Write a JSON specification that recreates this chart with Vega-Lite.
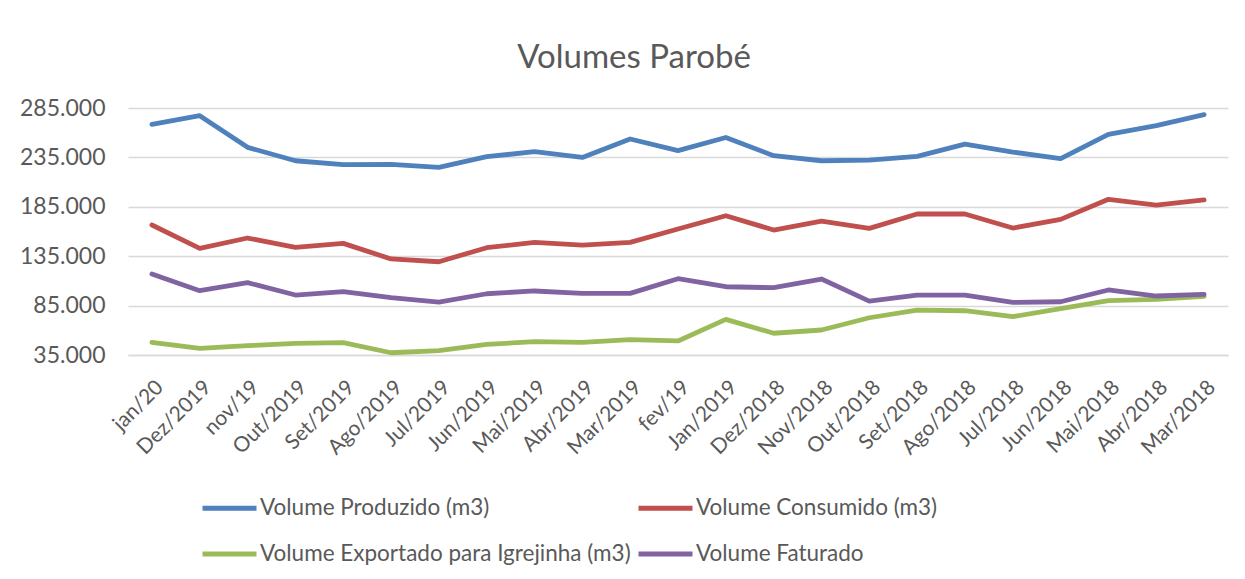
{
  "$schema": "https://vega.github.io/schema/vega-lite/v6.json",
  "width": 1100,
  "height": 247,
  "autosize": {"type": "none"},
  "padding": {"left": 128, "top": 108, "right": 17, "bottom": 224},
  "background": "white",
  "config": {
    "font": "Lato",
    "view": {"stroke": null}
  },
  "title": {
    "text": "Volumes Parobé",
    "fontSize": 33,
    "fontWeight": "normal",
    "color": "#595959",
    "baseline": "alphabetic",
    "offset": -4,
    "dx": -44,
    "anchor": "middle"
  },
  "data": {
    "values": [
      {"mes": "jan/20", "serie": "Volume Produzido (m3)", "valor": 268500},
      {"mes": "Dez/2019", "serie": "Volume Produzido (m3)", "valor": 277200},
      {"mes": "nov/19", "serie": "Volume Produzido (m3)", "valor": 245200},
      {"mes": "Out/2019", "serie": "Volume Produzido (m3)", "valor": 231600},
      {"mes": "Set/2019", "serie": "Volume Produzido (m3)", "valor": 227600},
      {"mes": "Ago/2019", "serie": "Volume Produzido (m3)", "valor": 228000},
      {"mes": "Jul/2019", "serie": "Volume Produzido (m3)", "valor": 224900},
      {"mes": "Jun/2019", "serie": "Volume Produzido (m3)", "valor": 235700},
      {"mes": "Mai/2019", "serie": "Volume Produzido (m3)", "valor": 240800},
      {"mes": "Abr/2019", "serie": "Volume Produzido (m3)", "valor": 235000},
      {"mes": "Mar/2019", "serie": "Volume Produzido (m3)", "valor": 253600},
      {"mes": "fev/19", "serie": "Volume Produzido (m3)", "valor": 241800},
      {"mes": "Jan/2019", "serie": "Volume Produzido (m3)", "valor": 255200},
      {"mes": "Dez/2018", "serie": "Volume Produzido (m3)", "valor": 236700},
      {"mes": "Nov/2018", "serie": "Volume Produzido (m3)", "valor": 231600},
      {"mes": "Out/2018", "serie": "Volume Produzido (m3)", "valor": 232300},
      {"mes": "Set/2018", "serie": "Volume Produzido (m3)", "valor": 236000},
      {"mes": "Ago/2018", "serie": "Volume Produzido (m3)", "valor": 248500},
      {"mes": "Jul/2018", "serie": "Volume Produzido (m3)", "valor": 240400},
      {"mes": "Jun/2018", "serie": "Volume Produzido (m3)", "valor": 233700},
      {"mes": "Mai/2018", "serie": "Volume Produzido (m3)", "valor": 258200},
      {"mes": "Abr/2018", "serie": "Volume Produzido (m3)", "valor": 267100},
      {"mes": "Mar/2018", "serie": "Volume Produzido (m3)", "valor": 278300},

      {"mes": "jan/20", "serie": "Volume Consumido (m3)", "valor": 166600},
      {"mes": "Dez/2019", "serie": "Volume Consumido (m3)", "valor": 143000},
      {"mes": "nov/19", "serie": "Volume Consumido (m3)", "valor": 153400},
      {"mes": "Out/2019", "serie": "Volume Consumido (m3)", "valor": 144000},
      {"mes": "Set/2019", "serie": "Volume Consumido (m3)", "valor": 148000},
      {"mes": "Ago/2019", "serie": "Volume Consumido (m3)", "valor": 132200},
      {"mes": "Jul/2019", "serie": "Volume Consumido (m3)", "valor": 129400},
      {"mes": "Jun/2019", "serie": "Volume Consumido (m3)", "valor": 143600},
      {"mes": "Mai/2019", "serie": "Volume Consumido (m3)", "valor": 149000},
      {"mes": "Abr/2019", "serie": "Volume Consumido (m3)", "valor": 146300},
      {"mes": "Mar/2019", "serie": "Volume Consumido (m3)", "valor": 149000},
      {"mes": "fev/19", "serie": "Volume Consumido (m3)", "valor": 162500},
      {"mes": "Jan/2019", "serie": "Volume Consumido (m3)", "valor": 176000},
      {"mes": "Dez/2018", "serie": "Volume Consumido (m3)", "valor": 161500},
      {"mes": "Nov/2018", "serie": "Volume Consumido (m3)", "valor": 170600},
      {"mes": "Out/2018", "serie": "Volume Consumido (m3)", "valor": 163200},
      {"mes": "Set/2018", "serie": "Volume Consumido (m3)", "valor": 177700},
      {"mes": "Ago/2018", "serie": "Volume Consumido (m3)", "valor": 177700},
      {"mes": "Jul/2018", "serie": "Volume Consumido (m3)", "valor": 163500},
      {"mes": "Jun/2018", "serie": "Volume Consumido (m3)", "valor": 172300},
      {"mes": "Mai/2018", "serie": "Volume Consumido (m3)", "valor": 192600},
      {"mes": "Abr/2018", "serie": "Volume Consumido (m3)", "valor": 186800},
      {"mes": "Mar/2018", "serie": "Volume Consumido (m3)", "valor": 191900},

      {"mes": "jan/20", "serie": "Volume Exportado para Igrejinha (m3)", "valor": 47800},
      {"mes": "Dez/2019", "serie": "Volume Exportado para Igrejinha (m3)", "valor": 41700},
      {"mes": "nov/19", "serie": "Volume Exportado para Igrejinha (m3)", "valor": 44400},
      {"mes": "Out/2019", "serie": "Volume Exportado para Igrejinha (m3)", "valor": 46800},
      {"mes": "Set/2019", "serie": "Volume Exportado para Igrejinha (m3)", "valor": 47500},
      {"mes": "Ago/2019", "serie": "Volume Exportado para Igrejinha (m3)", "valor": 37300},
      {"mes": "Jul/2019", "serie": "Volume Exportado para Igrejinha (m3)", "valor": 39400},
      {"mes": "Jun/2019", "serie": "Volume Exportado para Igrejinha (m3)", "valor": 45800},
      {"mes": "Mai/2019", "serie": "Volume Exportado para Igrejinha (m3)", "valor": 48500},
      {"mes": "Abr/2019", "serie": "Volume Exportado para Igrejinha (m3)", "valor": 47800},
      {"mes": "Mar/2019", "serie": "Volume Exportado para Igrejinha (m3)", "valor": 50500},
      {"mes": "fev/19", "serie": "Volume Exportado para Igrejinha (m3)", "valor": 49200},
      {"mes": "Jan/2019", "serie": "Volume Exportado para Igrejinha (m3)", "valor": 71100},
      {"mes": "Dez/2018", "serie": "Volume Exportado para Igrejinha (m3)", "valor": 57000},
      {"mes": "Nov/2018", "serie": "Volume Exportado para Igrejinha (m3)", "valor": 60300},
      {"mes": "Out/2018", "serie": "Volume Exportado para Igrejinha (m3)", "valor": 72700},
      {"mes": "Set/2018", "serie": "Volume Exportado para Igrejinha (m3)", "valor": 80500},
      {"mes": "Ago/2018", "serie": "Volume Exportado para Igrejinha (m3)", "valor": 79800},
      {"mes": "Jul/2018", "serie": "Volume Exportado para Igrejinha (m3)", "valor": 73800},
      {"mes": "Jun/2018", "serie": "Volume Exportado para Igrejinha (m3)", "valor": 81900},
      {"mes": "Mai/2018", "serie": "Volume Exportado para Igrejinha (m3)", "valor": 90000},
      {"mes": "Abr/2018", "serie": "Volume Exportado para Igrejinha (m3)", "valor": 91400},
      {"mes": "Mar/2018", "serie": "Volume Exportado para Igrejinha (m3)", "valor": 94400},

      {"mes": "jan/20", "serie": "Volume Faturado", "valor": 117000},
      {"mes": "Dez/2019", "serie": "Volume Faturado", "valor": 100100},
      {"mes": "nov/19", "serie": "Volume Faturado", "valor": 108200},
      {"mes": "Out/2019", "serie": "Volume Faturado", "valor": 95700},
      {"mes": "Set/2019", "serie": "Volume Faturado", "valor": 99100},
      {"mes": "Ago/2019", "serie": "Volume Faturado", "valor": 93000},
      {"mes": "Jul/2019", "serie": "Volume Faturado", "valor": 88600},
      {"mes": "Jun/2019", "serie": "Volume Faturado", "valor": 97000},
      {"mes": "Mai/2019", "serie": "Volume Faturado", "valor": 99800},
      {"mes": "Abr/2019", "serie": "Volume Faturado", "valor": 97400},
      {"mes": "Mar/2019", "serie": "Volume Faturado", "valor": 97400},
      {"mes": "fev/19", "serie": "Volume Faturado", "valor": 112200},
      {"mes": "Jan/2019", "serie": "Volume Faturado", "valor": 104100},
      {"mes": "Dez/2018", "serie": "Volume Faturado", "valor": 103100},
      {"mes": "Nov/2018", "serie": "Volume Faturado", "valor": 111900},
      {"mes": "Out/2018", "serie": "Volume Faturado", "valor": 89600},
      {"mes": "Set/2018", "serie": "Volume Faturado", "valor": 95700},
      {"mes": "Ago/2018", "serie": "Volume Faturado", "valor": 95700},
      {"mes": "Jul/2018", "serie": "Volume Faturado", "valor": 88300},
      {"mes": "Jun/2018", "serie": "Volume Faturado", "valor": 88900},
      {"mes": "Mai/2018", "serie": "Volume Faturado", "valor": 100800},
      {"mes": "Abr/2018", "serie": "Volume Faturado", "valor": 94700},
      {"mes": "Mar/2018", "serie": "Volume Faturado", "valor": 96400}
    ]
  },
  "mark": {"type": "line", "strokeWidth": 4.8, "strokeCap": "round", "strokeJoin": "round"},
  "encoding": {
    "x": {
      "field": "mes",
      "type": "ordinal",
      "sort": null,
      "scale": {"padding": 0.5},
      "axis": {
        "title": null,
        "labelAngle": -45,
        "labelFontSize": 21,
        "labelColor": "#595959",
        "labelPadding": 21,
        "ticks": false,
        "domain": true,
        "domainColor": "#D9D9D9",
        "domainWidth": 1.5,
        "grid": false
      }
    },
    "y": {
      "field": "valor",
      "type": "quantitative",
      "scale": {"domain": [35000, 285000], "nice": false, "zero": false},
      "axis": {
        "title": null,
        "values": [35000, 85000, 135000, 185000, 235000, 285000],
        "labelExpr": "replace(format(datum.value, ','), ',', '.')",
        "labelFontSize": 23,
        "labelColor": "#595959",
        "labelPadding": 23,
        "ticks": false,
        "domain": false,
        "grid": true,
        "gridColor": "#D9D9D9",
        "gridWidth": 1.5
      }
    },
    "color": {
      "field": "serie",
      "type": "nominal",
      "sort": null,
      "scale": {
        "domain": ["Volume Produzido (m3)", "Volume Consumido (m3)", "Volume Exportado para Igrejinha (m3)", "Volume Faturado"],
        "range": ["#4F81BD", "#C0504D", "#9BBB59", "#8064A2"]
      },
      "legend": {
        "title": null,
        "orient": "none",
        "legendX": 72,
        "legendY": 389,
        "direction": "horizontal",
        "columns": 2,
        "symbolType": "stroke",
        "symbolSize": 2916,
        "symbolStrokeWidth": 5,
        "labelFontSize": 22.5,
        "labelColor": "#595959",
        "labelOffset": 1,
        "labelLimit": 500,
        "columnPadding": 5,
        "rowPadding": 23,
        "clipHeight": 22
      }
    }
  }
}
